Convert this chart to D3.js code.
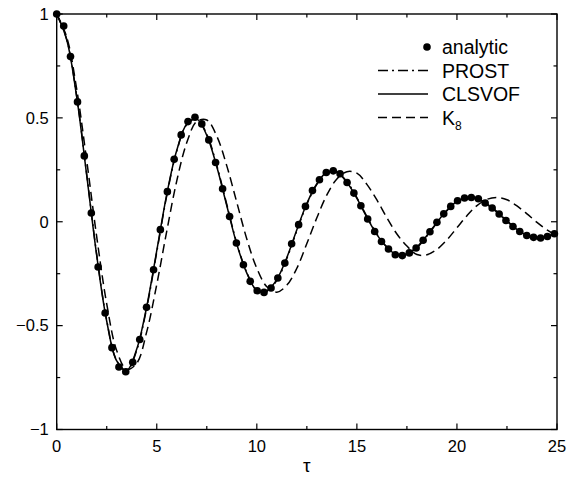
<!DOCTYPE html>
<html>
<head>
<meta charset="utf-8">
<script src="https://cdnjs.cloudflare.com/ajax/libs/d3/7.8.5/d3.min.js"></script>
<style>
  body { margin: 0; background: #fff; }
  text { font-family: "Liberation Sans", Arial, Helvetica, sans-serif; fill: #000; }
</style>
</head>
<body>
<script>
(function(){

    /////////// DATA //////////
    // analytic solution (dots)
    const analyticTau = [0, 0.35, 0.69, 1.04, 1.38, 1.73, 2.07, 2.42, 2.76, 3.11, 3.45, 3.80, 4.15, 4.49, 4.84, 5.18,
        5.53, 5.87, 6.22, 6.56, 6.91, 7.25, 7.60, 7.94, 8.29, 8.64, 8.98, 9.33, 9.67, 10.02, 10.36, 10.71, 11.05,
        11.40, 11.74, 12.09, 12.43, 12.78, 13.13, 13.47, 13.82, 14.16, 14.51, 14.85, 15.20, 15.54, 15.89, 16.23,
        16.58, 16.92, 17.27, 17.62, 17.96, 18.31, 18.65, 19.00, 19.34, 19.69, 20.03, 20.38, 20.72, 21.07, 21.41,
        21.76, 22.11, 22.45, 22.80, 23.14, 23.49, 23.83, 24.18, 24.52, 24.87];
    const analyticVal = [1.0, 0.942, 0.795, 0.577, 0.317, 0.042, -0.218, -0.439, -0.606, -0.699, -0.722, -0.676,
        -0.567, -0.412, -0.231, -0.038, 0.145, 0.301, 0.418, 0.482, 0.503, 0.471, 0.394, 0.285, 0.159, 0.025,
        -0.102, -0.207, -0.287, -0.332, -0.340, -0.319, -0.271, -0.199, -0.106, -0.014, 0.074, 0.150, 0.202,
        0.237, 0.245, 0.231, 0.189, 0.138, 0.077, 0.013, -0.047, -0.095, -0.131, -0.159, -0.163, -0.150, -0.126,
        -0.089, -0.048, -0.003, 0.038, 0.074, 0.101, 0.114, 0.117, 0.111, 0.090, 0.066, 0.037, 0.006, -0.023,
        -0.047, -0.066, -0.075, -0.078, -0.071, -0.058];

    // simulation curves, sampled every 0.5
    const curveTau = [0, 0.5, 1, 1.5, 2, 2.5, 3, 3.5, 4, 4.5, 5, 5.5, 6, 6.5, 7, 7.5, 8, 8.5, 9, 9.5, 10, 10.5,
        11, 11.5, 12, 12.5, 13, 13.5, 14, 14.5, 15, 15.5, 16, 16.5, 17, 17.5, 18, 18.5, 19, 19.5, 20, 20.5, 21,
        21.5, 22, 22.5, 23, 23.5, 24, 24.5, 25];
    const prostVal = [1.0, 0.878, 0.604, 0.228, -0.158, -0.475, -0.669, -0.718, -0.618, -0.414, -0.146, 0.126,
        0.340, 0.468, 0.496, 0.421, 0.271, 0.083, -0.103, -0.244, -0.330, -0.335, -0.282, -0.177, -0.043, 0.084,
        0.180, 0.237, 0.239, 0.193, 0.116, 0.025, -0.059, -0.121, -0.160, -0.156, -0.125, -0.069, -0.006, 0.053,
        0.097, 0.115, 0.113, 0.086, 0.049, 0.005, -0.035, -0.064, -0.076, -0.072, -0.054];
    const clsvofVal = [1.0, 0.876, 0.600, 0.223, -0.163, -0.479, -0.670, -0.716, -0.613, -0.407, -0.139, 0.132,
        0.344, 0.470, 0.494, 0.416, 0.265, 0.077, -0.108, -0.247, -0.330, -0.332, -0.278, -0.172, -0.038, 0.088,
        0.183, 0.238, 0.238, 0.190, 0.112, 0.021, -0.062, -0.123, -0.160, -0.154, -0.122, -0.066, -0.003, 0.055,
        0.098, 0.115, 0.112, 0.084, 0.046, 0.002, -0.037, -0.066, -0.076, -0.071, -0.052];
    const k8Val = [1.0, 0.889, 0.638, 0.294, -0.073, -0.395, -0.621, -0.710, -0.681, -0.529, -0.302, -0.045,
        0.197, 0.381, 0.483, 0.490, 0.412, 0.269, 0.093, -0.083, -0.224, -0.313, -0.339, -0.305, -0.224, -0.105,
        0.019, 0.129, 0.206, 0.241, 0.234, 0.180, 0.105, 0.019, -0.059, -0.117, -0.158, -0.159, -0.133, -0.087,
        -0.029, 0.029, 0.078, 0.108, 0.117, 0.106, 0.076, 0.038, -0.003, -0.039, -0.066];

    const xTicks = [0, 5, 10, 15, 20, 25];
    const yTicks = [-1, -0.5, 0, 0.5, 1];
    const yTickLabels = ["\u22121", "\u22120.5", "0", "0.5", "1"];
    const legendNames = ["analytic", "PROST", "CLSVOF", "K"];

    /////////// LAYOUT //////////
    const width = 573, height = 479;
    const margin = {top: 14, right: 16, bottom: 49.5, left: 56.7};
    const innerW = width - margin.left - margin.right;
    const innerH = height - margin.top - margin.bottom;

    const svg = d3.select("body").append("svg")
        .attr("width", width)
        .attr("height", height);

    const g = svg.append("g").attr("transform", `translate(${margin.left},${margin.top})`);

    const x = d3.scaleLinear().domain([0, 25]).range([0, innerW]);
    const y = d3.scaleLinear().domain([-1, 1]).range([innerH, 0]);

    /////////// AXES (ticks inward, mirrored) //////////
    const minorX = d3.range(0, 25.01, 2.5).filter(v => v % 5 !== 0);
    const minorY = d3.range(-1, 1.01, 0.25).filter(v => Math.abs(v * 2 - Math.round(v * 2)) > 1e-6);

    function tickLines(sel, vals, len, orient) {
        vals.forEach(v => {
            if (orient === "x") {
                sel.append("line").attr("x1", x(v)).attr("x2", x(v)).attr("y1", innerH).attr("y2", innerH - len);
                sel.append("line").attr("x1", x(v)).attr("x2", x(v)).attr("y1", 0).attr("y2", len);
            } else {
                sel.append("line").attr("y1", y(v)).attr("y2", y(v)).attr("x1", 0).attr("x2", len);
                sel.append("line").attr("y1", y(v)).attr("y2", y(v)).attr("x1", innerW).attr("x2", innerW - len);
            }
        });
    }

    const ticks = g.append("g").attr("stroke", "#000").attr("stroke-width", 1.2);
    tickLines(ticks, xTicks, 6, "x");
    tickLines(ticks, minorX, 3.5, "x");
    tickLines(ticks, yTicks, 6, "y");
    tickLines(ticks, minorY, 3.5, "y");

    g.append("rect")
        .attr("width", innerW).attr("height", innerH)
        .attr("fill", "none").attr("stroke", "#000").attr("stroke-width", 1.4);

    g.selectAll(".xlab").data(xTicks).enter().append("text")
        .attr("x", d => x(d)).attr("y", innerH + 22)
        .attr("text-anchor", "middle").style("font-size", "16.5px")
        .text(d => d);

    g.selectAll(".ylab").data(yTicks).enter().append("text")
        .attr("x", -8).attr("y", d => y(d)).attr("dy", "0.35em")
        .attr("text-anchor", "end").style("font-size", "16.5px")
        .text((d, i) => yTickLabels[i]);

    g.append("text")
        .attr("x", innerW / 2).attr("y", innerH + 42)
        .attr("text-anchor", "middle").style("font-size", "19px")
        .text("\u03C4");

    /////////// CURVES //////////
    const line = d3.line().x(d => x(d[0])).y(d => y(d[1])).curve(d3.curveCatmullRom);
    const series = [
        {vals: k8Val, dash: "9,5"},
        {vals: prostVal, dash: "10,4,2,4"},
        {vals: clsvofVal, dash: null}
    ];
    series.forEach(s => {
        g.append("path")
            .datum(curveTau.map((t, i) => [t, s.vals[i]]))
            .attr("d", line)
            .attr("fill", "none").attr("stroke", "#000").attr("stroke-width", 1.5)
            .attr("stroke-dasharray", s.dash);
    });

    g.selectAll(".dot").data(analyticTau.map((t, i) => [t, analyticVal[i]])).enter()
        .append("circle")
        .attr("cx", d => x(d[0])).attr("cy", d => y(d[1])).attr("r", 3.8)
        .attr("fill", "#000");

    /////////// LEGEND //////////
    const leg = svg.append("g");
    const legY = [47, 70.5, 94, 117.5];
    const lx0 = 378, lx1 = 428, tx = 442;
    leg.append("circle").attr("cx", lx1 - 1).attr("cy", legY[0]).attr("r", 3.8).attr("fill", "#000");
    [["10,4,2,4", 1], [null, 2], ["9,5", 3]].forEach(([dash, i]) => {
        leg.append("line").attr("x1", lx0).attr("x2", lx1).attr("y1", legY[i]).attr("y2", legY[i])
            .attr("stroke", "#000").attr("stroke-width", 1.4).attr("stroke-dasharray", dash);
    });
    legendNames.forEach((n, i) => {
        const t = leg.append("text").attr("x", tx).attr("y", legY[i]).attr("dy", "0.36em")
            .style("font-size", "19.5px").text(n);
        if (i === 3) t.append("tspan").attr("dy", "5").style("font-size", "12px").text("8");
    });

})();
</script>
</body>
</html>
